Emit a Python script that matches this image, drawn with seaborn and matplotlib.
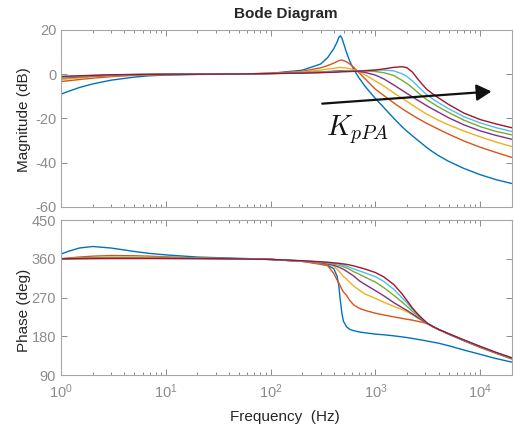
import numpy as np
import pandas as pd
import matplotlib
matplotlib.use("Agg")
import matplotlib.pyplot as plt
import seaborn as sns
from matplotlib.ticker import LogLocator, LogFormatterMathtext, FixedLocator, NullFormatter, NullLocator

# ---------------- data ----------------
freq = [1, 1.2, 1.5, 2, 3, 5, 7, 10, 20, 50, 100, 200, 300, 350, 400, 430, 447, 462, 478, 495,
        530, 570, 620, 700, 800, 1000, 1200, 1500, 1800, 2000, 2250, 2500, 2800, 3100, 3500,
        4000, 5000, 7000, 10000, 14000, 20000]

series_names = ["K1", "K2", "K3", "K4", "K5", "K6", "K7"]

mag_k1 = [-9.0, -7.6, -6.0, -4.4, -2.7, -1.3, -0.7, -0.4, -0.1, 0.1, 0.4, 1.8, 4.6, 7.5, 11.5, 14.5, 16.6, 17.4, 16.4, 14.2,
          9.8, 5.8, 2.2, -1.8, -5.6,
          -11.0, -15.0, -20.0, -23.8, -25.8, -27.8, -29.6, -31.5, -33.2, -35.0, -36.8, -39.4, -42.6, -45.4, -47.6, -49.4]
mag_k2 = [-3.3, -2.9, -2.4, -1.8, -1.1, -0.5, -0.3, -0.2, 0.0, 0.1, 0.4, 1.3, 2.9, 3.9, 5.0, 5.7, 6.1, 6.3, 6.4, 6.2,
          5.6, 4.6, 3.1, 0.6, -2.2,
          -6.8, -9.6, -13.0, -15.6, -17.0, -18.5, -19.8, -21.1, -22.3, -23.5, -24.9, -27.1, -30.2, -33.0, -35.3, -37.6]
mag_k3 = [-2.4, -2.1, -1.7, -1.2, -0.7, -0.3, -0.2, -0.1, 0.0, 0.1, 0.4, 1.0, 1.9, 2.3, 2.7, 2.9, 3.0, 3.05, 3.0, 2.95,
          2.8, 2.5, 2.0, 1.0, -0.3,
          -3.1, -5.3, -8.5, -10.9, -12.3, -13.9, -15.3, -16.8, -18.1, -19.4, -20.8, -22.9, -25.7, -28.3, -30.6, -32.7]
mag_k4 = [-1.7, -1.5, -1.2, -0.9, -0.5, -0.2, -0.1, -0.05, 0.0, 0.1, 0.3, 0.7, 1.0, 1.2, 1.35, 1.45, 1.5, 1.55, 1.6, 1.6,
          1.55, 1.5, 1.4, 1.2, 0.8,
          -0.4, -2.1, -4.9, -7.3, -8.7, -10.2, -11.6, -13.0, -14.3, -15.7, -17.2, -19.7, -22.9, -25.6, -27.6, -29.4]
mag_k5 = [-1.4, -1.2, -1.0, -0.7, -0.4, -0.2, -0.1, -0.05, 0.0, 0.1, 0.3, 0.6, 0.9, 1.0, 1.15, 1.25, 1.3, 1.35, 1.4, 1.4,
          1.45, 1.5, 1.55, 1.6, 1.55,
          1.2, 0.7, -0.6, -2.8, -4.2, -6.1, -8.0, -9.9, -11.5, -13.1, -14.8, -17.3, -20.8, -23.7, -25.8, -27.4]
mag_k6 = [-1.2, -1.0, -0.8, -0.6, -0.3, -0.15, -0.1, -0.05, 0.0, 0.1, 0.3, 0.55, 0.8, 0.9, 1.0, 1.1, 1.15, 1.2, 1.25, 1.3,
          1.35, 1.4, 1.5, 1.6, 1.7,
          1.85, 1.9, 1.5, 0.2, -1.0, -3.0, -5.1, -7.4, -9.3, -11.1, -12.9, -15.6, -19.2, -22.0, -24.1, -25.9]
mag_k7 = [-1.0, -0.85, -0.7, -0.5, -0.25, -0.1, -0.05, 0.0, 0.0, 0.1, 0.3, 0.5, 0.7, 0.8, 0.9, 0.95, 1.0, 1.05, 1.1, 1.1,
          1.15, 1.2, 1.3, 1.4, 1.55,
          1.9, 2.4, 3.1, 3.4, 2.9, 1.0, -1.8, -4.6, -6.9, -8.8, -10.7, -13.7, -17.6, -20.5, -22.4, -24.2]

ph_k1 = [371, 378, 385, 388.5, 385, 377, 372.5, 369, 364, 361, 358.5, 354, 349, 345, 337, 320, 298, 264, 234, 215,
         202, 196, 193, 190, 188,
         185, 183.5, 181, 178.5, 177, 175, 173, 171, 169, 166.5, 164, 158, 148, 138, 128.5, 120]
ph_k2 = [360, 362, 364, 366, 367.5, 367, 366, 364.5, 362, 360, 358.5, 354, 347, 344, 326, 311, 304, 297, 289, 283,
         275, 263, 253, 245, 240,
         233.5, 229.5, 225, 221.5, 219.5, 217.5, 215, 212.5, 209.5, 203.5, 196, 185, 169.5, 154, 141, 127]
ph_k3 = [360, 361, 362, 363, 364, 364, 363.5, 363, 361.5, 360, 358.5, 354, 350, 348, 343, 336, 332, 328, 323, 319,
         313, 305, 297, 287, 278,
         268, 259, 249.5, 242, 237, 230, 223, 216, 210, 203, 196, 185, 170, 154.5, 141.5, 128]
ph_k4 = [360, 360.5, 361, 361.5, 362, 362, 361.5, 361.5, 361, 360, 358.5, 354.5, 351, 348, 345, 342, 340.5, 339, 337.5, 335.5,
         331, 326, 320, 309, 300,
         286, 274, 258, 246.5, 240, 232, 224.5, 217, 210, 203, 196, 185, 170, 155, 141.5, 128.5]
ph_k5 = [360, 360.3, 360.6, 361, 361.5, 361.5, 361.3, 361, 360.8, 360, 358.5, 355, 352, 350, 347.5, 346, 345, 344, 343, 341.5,
         339, 335, 330, 324, 317,
         306, 293, 275, 259, 249.5, 238, 228.5, 219, 210.5, 203, 196, 185.5, 170.5, 155.5, 142, 129]
ph_k6 = [360, 360.2, 360.4, 360.7, 361, 361, 361, 360.8, 360.5, 360, 358.5, 355, 352.5, 351, 349.5, 348.5, 348, 347, 346, 345,
         343, 340, 336.5, 332, 327,
         318.5, 307.5, 289, 269, 257.5, 243, 232, 220.5, 211, 203, 196, 186, 171, 156, 142.5, 129.5]
ph_k7 = [360, 360.1, 360.2, 360.3, 360.5, 360.5, 360.5, 360.5, 360.3, 359.8, 358.5, 355.5, 353, 352, 350.5, 350, 349.5, 349, 348.5, 348,
         347, 345.5, 343.5, 340, 336,
         328, 318, 300, 278, 263, 246, 233, 221, 211, 203, 196, 186, 171.5, 156.5, 143, 130]

mag_ticks = [-60, -40, -20, 0, 20]
phase_ticks = [90, 180, 270, 360, 450]

colors = ["#0072BD", "#D95319", "#EDB120", "#7E2F8E", "#77AC30", "#4DBEEE", "#A2142F"]

# ---------------- long table ----------------
mags = [mag_k1, mag_k2, mag_k3, mag_k4, mag_k5, mag_k6, mag_k7]
phs = [ph_k1, ph_k2, ph_k3, ph_k4, ph_k5, ph_k6, ph_k7]
rows = []
for name, m, p in zip(series_names, mags, phs):
    for f, mv, pv in zip(freq, m, p):
        rows.append({"freq": f, "mag": mv, "phase": pv, "series": name})
df = pd.DataFrame(rows)

# ---------------- style ----------------
sns.set_theme(style="white")
plt.rcParams['font.family'] = ['Liberation Sans', 'DejaVu Sans']
plt.rcParams['mathtext.fontset'] = 'custom'
plt.rcParams['mathtext.rm'] = 'Liberation Sans'
plt.rcParams['mathtext.it'] = 'Liberation Sans:italic'
plt.rcParams['axes.unicode_minus'] = False

spine_c = "#a6a6a6"
tick_c = "#8c8c8c"
label_c = "#262626"

fig = plt.figure(figsize=(5.14, 4.25), dpi=100)
ax1 = fig.add_axes([0.1187, 0.513, 0.877, 0.4165])
ax2 = fig.add_axes([0.1187, 0.1176, 0.877, 0.3647])

pal = dict(zip(series_names, colors))
sns.lineplot(data=df, x="freq", y="mag", hue="series", hue_order=series_names, palette=pal,
             estimator=None, legend=False, linewidth=1.0, ax=ax1)
sns.lineplot(data=df, x="freq", y="phase", hue="series", hue_order=series_names, palette=pal,
             estimator=None, legend=False, linewidth=1.0, ax=ax2)

for ax in (ax1, ax2):
    ax.set_xscale("log")
    ax.set_xlim(1, 2e4)
    ax.set_xlabel("")
    ax.set_ylabel("")
    ax.set_facecolor("white")
    for s in ax.spines.values():
        s.set_color(spine_c)
        s.set_linewidth(0.8)
        s.set_visible(True)
    ax.xaxis.set_major_locator(LogLocator(base=10, numticks=10))
    ax.xaxis.set_minor_locator(LogLocator(base=10, subs=np.arange(2, 10), numticks=20))
    ax.xaxis.set_minor_formatter(NullFormatter())
    ax.tick_params(which="both", direction="in", top=True, right=True, bottom=True, left=True,
                   color=tick_c, labelcolor=tick_c, labelsize=10.5, width=0.7)
    ax.tick_params(which="major", length=4)
    ax.tick_params(which="minor", length=2.3)
    ax.yaxis.set_minor_locator(NullLocator())
    ax.grid(False)

ax1.set_ylim(-60, 20)
ax1.yaxis.set_major_locator(FixedLocator(mag_ticks))
ax1.set_yticklabels([str(t) for t in mag_ticks])
ax1.xaxis.set_major_formatter(NullFormatter())

ax2.set_ylim(90, 450)
ax2.yaxis.set_major_locator(FixedLocator(phase_ticks))
ax2.set_yticklabels([str(t) for t in phase_ticks])
ax2.xaxis.set_major_formatter(LogFormatterMathtext())
ax2.tick_params(axis="x", which="major", pad=5)

fig.text(0.557, 0.967, "Bode Diagram", ha="center", va="center", fontsize=11,
         fontweight="bold", color=label_c)
fig.text(0.047, 0.718, "Magnitude (dB)", ha="center", va="center", rotation=90,
         fontsize=11, color=label_c)
fig.text(0.047, 0.27, "Phase (deg)", ha="center", va="center", rotation=90,
         fontsize=11, color=label_c)
fig.text(0.554, 0.02, "Frequency  (Hz)", ha="center", va="center", fontsize=11, color=label_c)

# annotation arrow and K label
ax1.annotate("", xy=(12800, -7.8), xytext=(311, -13.3),
             arrowprops=dict(arrowstyle="-|>,head_length=0.45,head_width=0.25", color="#111111",
                             lw=1.6, mutation_scale=20, shrinkA=0, shrinkB=0))
fig.text(0.635, 0.682, r"$K_{pPA}$", ha="left", va="baseline", fontsize=20.5,
         color="#111111", math_fontfamily="cm")

fig.savefig("out.png", dpi=100, facecolor="white")
